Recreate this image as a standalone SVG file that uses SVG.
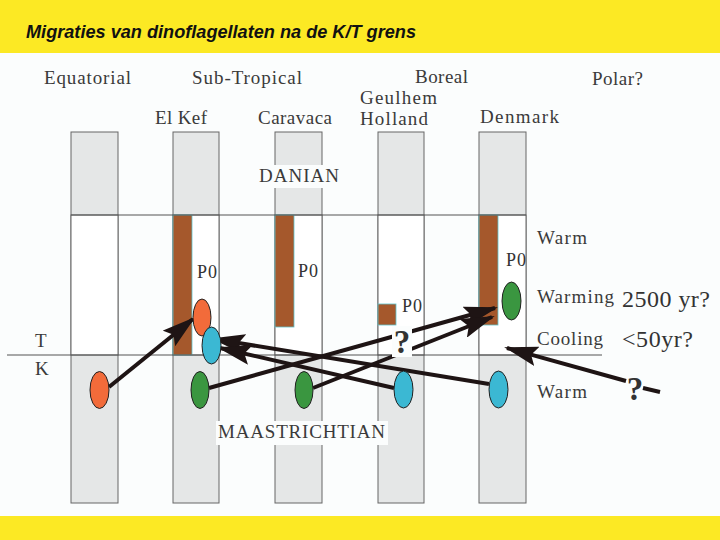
<svg xmlns="http://www.w3.org/2000/svg" width="720" height="540" viewBox="0 0 720 540">
<defs>
<style>
.lbl{font-family:"Liberation Serif","DejaVu Serif",serif;font-size:19px;fill:#3a3a3a}
.big{font-family:"Liberation Serif","DejaVu Serif",serif;font-size:24px;fill:#333}
.p0{font-family:"Liberation Serif","DejaVu Serif",serif;font-size:18px;fill:#333}
.q{font-family:"Liberation Serif","DejaVu Serif",serif;font-size:33px;font-weight:bold;fill:#333;text-anchor:middle}
.col{fill:#e5e7e7;stroke:#666;stroke-width:1}
.colw{fill:#ffffff;stroke:#666;stroke-width:1}
.bar{fill:#a5582c;stroke:#5cc4cc;stroke-width:0.8}
.ell{stroke:#222;stroke-width:1}
.or{fill:#f26b3a}.cy{fill:#3bb8d3}.gr{fill:#3a9640}
.arr{stroke:#1e1414;stroke-width:4;fill:none;marker-end:url(#ah)}
.rule{stroke:#555;stroke-width:1.2}
</style>
<marker id="ah" markerUnits="userSpaceOnUse" markerWidth="34" markerHeight="20" viewBox="0 0 34 20" refX="31" refY="10" orient="auto">
<path d="M0,0 L34,10 L0,20 L6,10 Z" fill="#1e1414"/>
</marker>
</defs>
<rect x="0" y="0" width="720" height="540" fill="#fbfdfd"/>
<rect x="0" y="0" width="720" height="53" fill="#fce924"/>
<rect x="0" y="516" width="720" height="24" fill="#fce924"/>
<text x="26" y="38" font-family="Liberation Sans, sans-serif" font-size="18" font-weight="bold" font-style="italic" fill="#111" textLength="390" lengthAdjust="spacingAndGlyphs">Migraties van dinoflagellaten na de K/T grens</text>

<g id="headings">
<text class="lbl" x="44" y="84" textLength="87">Equatorial</text>
<text class="lbl" x="192" y="84" textLength="110">Sub-Tropical</text>
<text class="lbl" x="415" y="83" textLength="53">Boreal</text>
<text class="lbl" x="592" y="85" textLength="51">Polar?</text>
</g>

<g id="col1">
<rect class="col" x="71" y="132" width="47" height="371"/>
<rect class="colw" x="71" y="215" width="47" height="140"/>
</g>
<g id="col2">
<rect class="col" x="173" y="132" width="46" height="371"/>
<rect class="colw" x="173" y="215" width="46" height="140"/>
<rect class="bar" x="173" y="215" width="19" height="140"/>
<text class="lbl" x="155" y="124" textLength="52">El Kef</text>
<text class="p0" x="197" y="278" textLength="20">P0</text>
</g>
<g id="col3">
<rect class="col" x="275" y="132" width="47" height="371"/>
<rect class="colw" x="275" y="215" width="47" height="140"/>
<rect class="bar" x="275" y="215" width="19" height="112"/>
<text class="lbl" x="258" y="124" textLength="74">Caravaca</text>
<text class="p0" x="298" y="277" textLength="20">P0</text>
</g>
<g id="col4">
<rect class="col" x="378" y="132" width="46" height="371"/>
<rect class="colw" x="378" y="215" width="46" height="140"/>
<rect class="bar" x="378" y="304" width="18" height="21"/>
<text class="lbl" x="360" y="104" textLength="77">Geulhem</text>
<text class="lbl" x="360" y="125" textLength="68">Holland</text>
<text class="p0" x="402" y="312" textLength="20">P0</text>
</g>
<g id="col5">
<rect class="col" x="479" y="132" width="47" height="371"/>
<rect class="colw" x="479" y="215" width="47" height="140"/>
<rect class="bar" x="479" y="215" width="19" height="110"/>
<text class="lbl" x="480" y="123" textLength="79">Denmark</text>
<text class="p0" x="506" y="266" textLength="20">P0</text>
</g>

<g id="rules">
<line class="rule" x1="71" y1="215" x2="526" y2="215"/>
<line class="rule" x1="7" y1="355" x2="602" y2="355"/>
</g>

<g id="stages">
<rect x="257" y="165" width="84" height="23" fill="#fbfdfd"/>
<text class="lbl" x="259" y="182" textLength="80">DANIAN</text>
<rect x="216" y="421" width="172" height="24" fill="#fbfdfd"/>
<text class="lbl" x="218" y="438" textLength="167">MAASTRICHTIAN</text>
<text class="lbl" x="35" y="347">T</text>
<text class="lbl" x="35" y="375">K</text>
</g>

<g id="climate">
<text class="lbl" x="537" y="244" textLength="50">Warm</text>
<text class="lbl" x="537" y="303" textLength="77">Warming</text>
<text class="big" x="622" y="307" textLength="88">2500 yr?</text>
<text class="lbl" x="537" y="345" textLength="66">Cooling</text>
<text class="big" x="622" y="347" textLength="71">&lt;50yr?</text>
<text class="lbl" x="537" y="398" textLength="50">Warm</text>
</g>

<g id="connectors">
<line class="arr" x1="109" y1="387" x2="193" y2="319"/>
<line class="arr" x1="489" y1="384" x2="214" y2="339"/>
<line class="arr" x1="394" y1="388" x2="220" y2="348"/>
<line class="arr" x1="209" y1="388" x2="495" y2="308"/>
<line class="arr" x1="313" y1="388" x2="492" y2="317"/>
<line class="arr" x1="626" y1="381" x2="507" y2="348"/>
<line x1="643" y1="388" x2="660" y2="392" stroke="#1e1414" stroke-width="4"/>
</g>

<g id="qmarks">
<rect x="392" y="326" width="20" height="31" fill="#fbfdfd"/>
<text class="q" x="402" y="353">?</text>
<text class="q" x="635" y="400">?</text>
</g>

<g id="ellipses">
<ellipse class="ell or" cx="99.5" cy="390" rx="9.5" ry="18.5"/>
<ellipse class="ell or" cx="202" cy="317.5" rx="9" ry="18.5"/>
<ellipse class="ell cy" cx="211.5" cy="345.5" rx="9.5" ry="18.5"/>
<ellipse class="ell gr" cx="200" cy="390" rx="9" ry="18.5"/>
<ellipse class="ell gr" cx="304" cy="390" rx="9" ry="18.5"/>
<ellipse class="ell cy" cx="403.5" cy="389.5" rx="9.5" ry="18.5"/>
<ellipse class="ell cy" cx="498.5" cy="389.5" rx="9.5" ry="18.5"/>
<ellipse class="ell gr" cx="511.5" cy="301" rx="9.5" ry="19"/>
</g>
</svg>
